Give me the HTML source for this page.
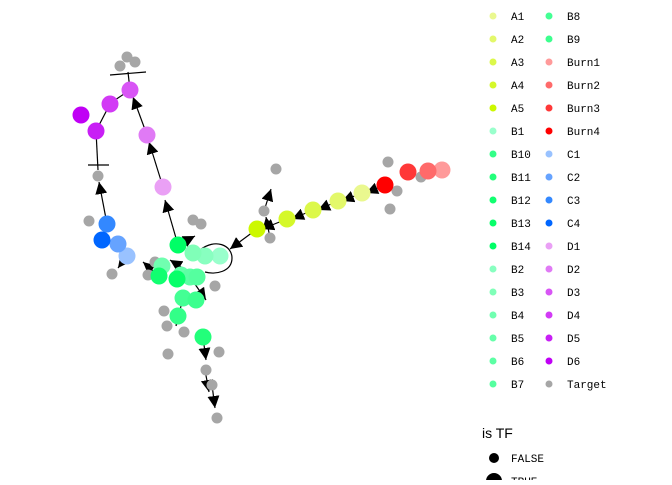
<!DOCTYPE html>
<html><head><meta charset="utf-8"><style>
body{margin:0;background:#fff;width:672px;height:480px;overflow:hidden}
svg text{font-family:"Liberation Mono","DejaVu Sans Mono",monospace;font-size:11px;fill:#000}
</style></head><body>
<svg id="chart" width="672" height="480" viewBox="0 0 672 480" xmlns="http://www.w3.org/2000/svg">
<defs><marker id="arr" viewBox="0 0 10 10" refX="10" refY="5" markerWidth="12" markerHeight="12" markerUnits="userSpaceOnUse" orient="auto"><path d="M0,0L10,5L0,10z" fill="#000"/></marker></defs>
<g id="edges"></g><g id="nodes"></g><g id="legend"></g>
</svg>
<script>
const nodeNames=["A1","A2","A3","A4","A5","Burn1","Burn2","Burn3","Burn4","C1","C2","C3","C4","D1","D2","D3","D4","D5","D6","B1","B14","B2","B3","B4","B5","B6","B7","B8","B9","B10","B11","B12","B13"];
const nodeX=[362,338,313,287,257,442,428,408,385,127,118,107,102,163,147,130,110,96,81,220,178,205,193,162,181,190,197,183,196,178,203,159,177];
const nodeY=[193,201,210,219,229,170,171,172,185,256,244,224,240,187,135,90,104,131,115,256,245,256,253,266,275,277,277,298,300,316,337,276,279];
const targetX=[127,120,135,98,89,112,148,193,201,215,164,167,184,168,206,219,212,217,276,264,270,388,421,397,390,155];
const targetY=[57,66,62,176,221,274,275,220,224,286,311,326,332,354,370,352,385,418,169,211,238,162,177,191,209,262];
const edgeFrom=[[385,185],[362,193],[338,201],[313,210],[287,219],[257,229],[163,187],[147,135],[107,224],[178,245],[127,256],[159,276],[183,298],[203,337],[205,370],[212,385],[190,277],[264,211],[270,238],[197,277],[178,245]];
const edgeTo=[[366,193],[342,201],[318,210],[292,219],[262,229],[230,249],[149,142],[133,97],[99,182],[165,200],[118,268],[143,262],[176,326],[206,360],[209,392],[215,408],[206,300],[271,189],[266,217],[170,260],[195,236]];
const legNames=["A1","A2","A3","A4","A5","B1","B10","B11","B12","B13","B14","B2","B3","B4","B5","B6","B7","B8","B9","Burn1","Burn2","Burn3","Burn4","C1","C2","C3","C4","D1","D2","D3","D4","D5","D6","Target"];
const legColors=["#eaf88f","#e3f86a","#dcf84a","#d5f82a","#ccf800","#99ffcc","#33ff88","#22ff7a","#11ff70","#08ff6a","#00ff66","#88ffc0","#80ffb8","#70ffb0","#66ffaa","#5cffa4","#55ff9f","#44ff94","#3cff8e","#ff9a9a","#ff6a6a","#ff3838","#ff0000","#99c2ff","#66a3ff","#3388ff","#0066ff","#eaa0f5","#e07af5","#d855f5","#d23af5","#c81ff5","#c000f5","#a6a6a6"];
const NS="http://www.w3.org/2000/svg";
const colorOf=n=>legColors[legNames.indexOf(n)];
const eg=document.getElementById('edges'),ng=document.getElementById('nodes'),lg=document.getElementById('legend');
function mk(t,a,p){const e=document.createElementNS(NS,t);for(const k in a)e.setAttribute(k,a[k]);p.appendChild(e);return e;}
edgeFrom.forEach((f,i)=>{const l=mk('line',{x1:f[0],y1:f[1],x2:edgeTo[i][0],y2:edgeTo[i][1],stroke:'#000','stroke-width':1.2,'marker-end':'url(#arr)'},eg);

});
const extra=[[98,170,96,131],[88,165,109,165],[109,104,130,90],[110,104,96,131],[130,90,128,72],[110,75,146,72],[130,90,150,150]];
extra.slice(0,6).forEach(s=>{const l=mk('line',{x1:s[0],y1:s[1],x2:s[2],y2:s[3],stroke:'#000','stroke-width':1.2},eg);

});
const loop=mk('path',{d:'M200,250 C215,238 232,245 232,258 C232,272 215,275 205,272',fill:'none',stroke:'#000','stroke-width':1.2},eg);


targetX.forEach((x,i)=>{const c=mk('circle',{cx:x,cy:targetY[i],r:5.5,fill:'#a6a6a6'},ng);

});
nodeNames.forEach((n,i)=>{const c=mk('circle',{cx:nodeX[i],cy:nodeY[i],r:8.5,fill:colorOf(n)},ng);

});
legNames.forEach((n,i)=>{const col=Math.floor(i/17),row=i%17;const x=493+col*56,y=16+row*23;
const g=mk('g',{},lg);


mk('circle',{cx:x,cy:y,r:3.5,fill:legColors[i]},g);
const t=mk('text',{x:x+18,y:y+4},g);t.textContent=n;});
const tt=mk('text',{x:482,y:438,style:'font-family:"Liberation Sans",sans-serif;font-size:14px'},lg);tt.textContent='is TF';


mk('circle',{cx:494,cy:458,r:5,fill:'#000'},lg);
const f=mk('text',{x:511,y:462},lg);f.textContent='FALSE';


mk('circle',{cx:494,cy:481,r:8,fill:'#000'},lg);
const tr=mk('text',{x:511,y:485},lg);tr.textContent='TRUE';


</script>
</body></html>
